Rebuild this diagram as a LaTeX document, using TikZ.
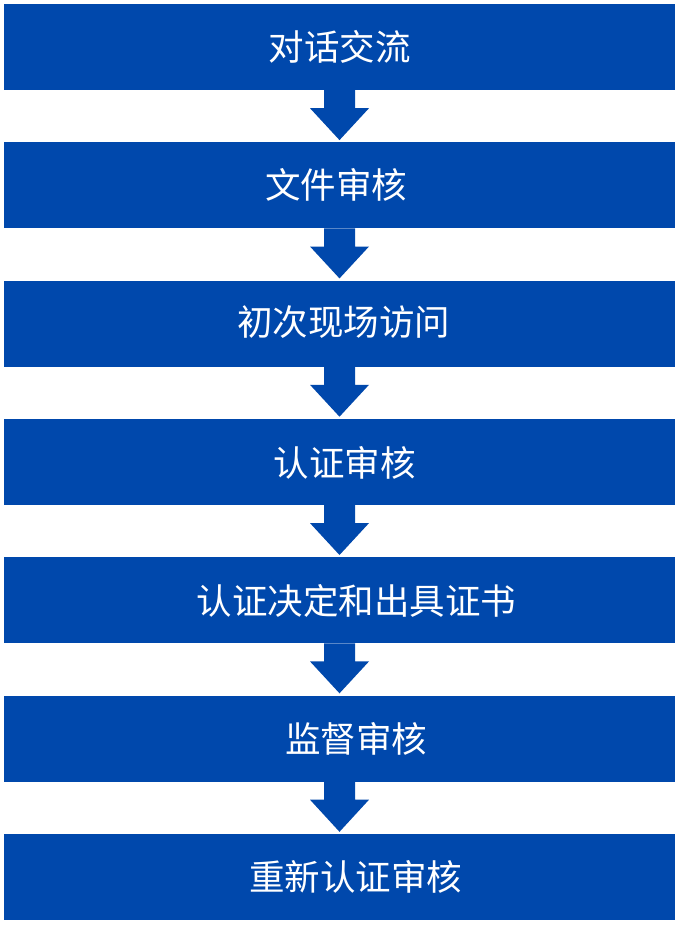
\documentclass[tikz,border=0pt]{standalone}
\usepackage{fontspec}
\newfontfamily\cjk{Noto Sans CJK SC}
\definecolor{boxblue}{HTML}{0048AC}
\begin{document}
\begin{tikzpicture}[x=1pt,y=-1pt,
  stepbox/.style={fill=boxblue,draw=none,minimum width=671pt,minimum height=86pt,inner sep=0pt},
  steptext/.style={inner sep=0pt,text=white,font=\cjk\fontsize{35.5}{35.5}\selectfont},
  flowarrow/.style={fill=boxblue,draw=none}]
\useasboundingbox (0,0) rectangle (679,925);
\fill[white] (0,0) rectangle (679,925);
\foreach \i/\t/\y/\dx/\dy in {1/对话交流/47/0/0, 2/文件审核/185.3/-3.5/0, 3/初次现场访问/323.6/4/-1.5, 4/认证审核/461.9/5/1, 5/认证决定和出具证书/600.2/17/0.5, 6/监督审核/738.5/16.5/0, 7/重新认证审核/877/16/0}{
  \node[stepbox] (b\i) at (339.5,\y) {};
  \node[steptext] (l\i) at ([xshift=\dx pt,yshift=-\dy pt]b\i.center) {\t};
}
\foreach \a/\b in {1/2,2/3,3/4,4/5,5/6,6/7}{
  \path (b\a.south) coordinate (s\a);
  \path (b\b.north) coordinate (t\a);
  \fill[flowarrow] ([xshift=-15.5pt]s\a) -- ([xshift=15.5pt]s\a) -- ([xshift=15.5pt,yshift=-18pt]s\a)
     -- ([xshift=29.5pt,yshift=-18pt]s\a) -- ([yshift=2pt]t\a) -- ([xshift=-29.5pt,yshift=-18pt]s\a)
     -- ([xshift=-15.5pt,yshift=-18pt]s\a) -- cycle;
}
\end{tikzpicture}
\end{document}
